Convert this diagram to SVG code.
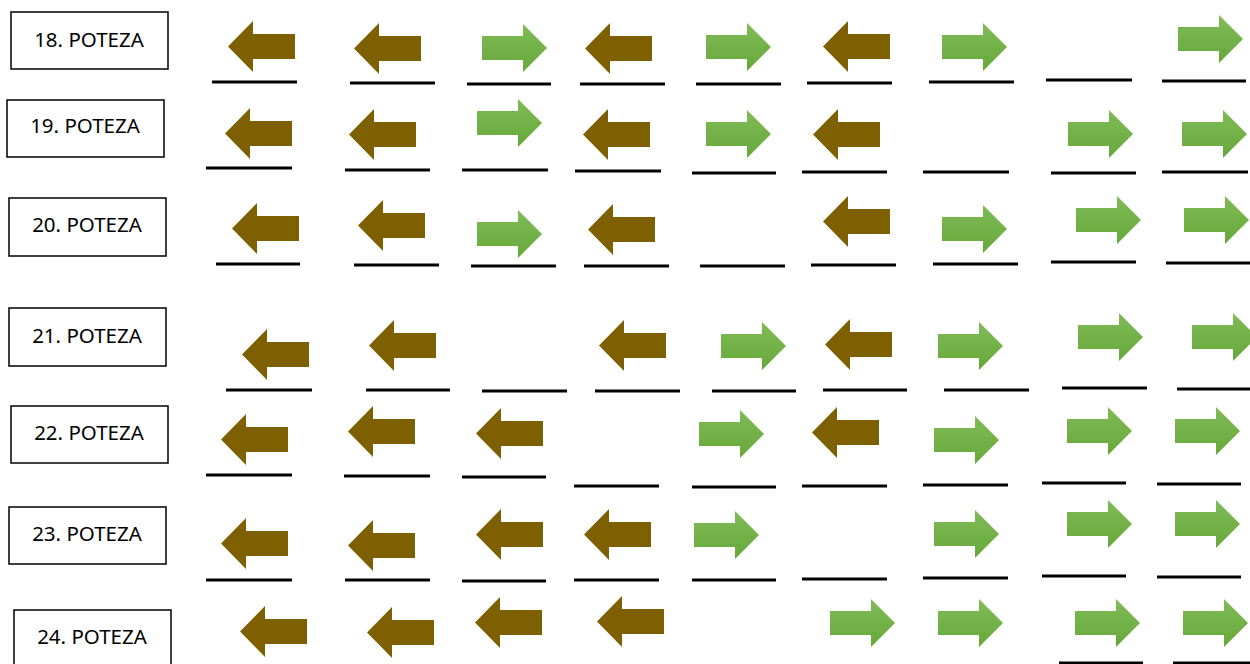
<svg xmlns="http://www.w3.org/2000/svg" xmlns:xlink="http://www.w3.org/1999/xlink" width="1250" height="664" viewBox="0 0 1250 664">
  <style>
    .box { fill: #ffffff; stroke: #000000; stroke-width: 1.5; }
    .label { font-family: "Noto Sans", "Open Sans", "Liberation Sans", sans-serif; font-size: 20.5px; fill: #000000; text-anchor: middle; }
    .slot { stroke: #000000; stroke-width: 3; }
  </style>
  <defs>
    <linearGradient id="greenFill" x1="0" y1="0" x2="0" y2="1">
      <stop offset="0" stop-color="#80bb57"/>
      <stop offset="1" stop-color="#66a83a"/>
    </linearGradient>
    <!-- brown arrow pointing left, 67 x 51 -->
    <path id="left" d="M0,25.5 L25,0 L25,13 L67,13 L67,38 L25,38 L25,51 Z" fill="#7f6000"/>
    <!-- green arrow pointing right, 65 x 48 -->
    <path id="right" d="M0,12 L41,12 L41,0 L65,24 L41,48 L41,36 L0,36 Z" fill="url(#greenFill)"/>
  </defs>
  <rect width="1250" height="664" fill="#ffffff"/>

  <!-- move 18 -->
  <g id="move-18">
    <rect class="box" x="11" y="12" width="157" height="57"/>
    <text class="label" x="89" y="47">18. POTEZA</text>
    <use xlink:href="#left" x="228" y="21"/>
    <use xlink:href="#left" x="354" y="23"/>
    <use xlink:href="#right" x="482" y="24"/>
    <use xlink:href="#left" x="585" y="23"/>
    <use xlink:href="#right" x="706" y="23"/>
    <use xlink:href="#left" x="823" y="21"/>
    <use xlink:href="#right" x="942" y="23"/>
    <use xlink:href="#right" x="1178" y="15"/>
  </g>

  <!-- move 19 -->
  <g id="move-19">
    <rect class="box" x="7" y="100" width="157" height="57"/>
    <text class="label" x="85" y="133">19. POTEZA</text>
    <use xlink:href="#left" x="225" y="108"/>
    <use xlink:href="#left" x="349" y="109"/>
    <use xlink:href="#right" x="477" y="99"/>
    <use xlink:href="#left" x="583" y="109"/>
    <use xlink:href="#right" x="706" y="110"/>
    <use xlink:href="#left" x="813" y="109"/>
    <use xlink:href="#right" x="1068" y="110"/>
    <use xlink:href="#right" x="1182" y="110"/>
  </g>

  <!-- move 20 -->
  <g id="move-20">
    <rect class="box" x="9" y="198" width="157" height="58"/>
    <text class="label" x="87" y="232">20. POTEZA</text>
    <use xlink:href="#left" x="232" y="203"/>
    <use xlink:href="#left" x="358" y="200"/>
    <use xlink:href="#right" x="477" y="210"/>
    <use xlink:href="#left" x="588" y="204"/>
    <use xlink:href="#left" x="823" y="196"/>
    <use xlink:href="#right" x="942" y="205"/>
    <use xlink:href="#right" x="1076" y="196"/>
    <use xlink:href="#right" x="1184" y="196"/>
  </g>

  <!-- move 21 -->
  <g id="move-21">
    <rect class="box" x="9" y="308" width="157" height="58"/>
    <text class="label" x="87" y="343">21. POTEZA</text>
    <use xlink:href="#left" x="242" y="329"/>
    <use xlink:href="#left" x="369" y="320"/>
    <use xlink:href="#left" x="599" y="320"/>
    <use xlink:href="#right" x="721" y="322"/>
    <use xlink:href="#left" x="825" y="319"/>
    <use xlink:href="#right" x="938" y="322"/>
    <use xlink:href="#right" x="1078" y="313"/>
    <use xlink:href="#right" x="1192" y="313"/>
  </g>

  <!-- move 22 -->
  <g id="move-22">
    <rect class="box" x="11" y="406" width="157" height="57"/>
    <text class="label" x="89" y="440">22. POTEZA</text>
    <use xlink:href="#left" x="221" y="414"/>
    <use xlink:href="#left" x="348" y="406"/>
    <use xlink:href="#left" x="476" y="408"/>
    <use xlink:href="#right" x="699" y="410"/>
    <use xlink:href="#left" x="812" y="407"/>
    <use xlink:href="#right" x="934" y="416"/>
    <use xlink:href="#right" x="1067" y="407"/>
    <use xlink:href="#right" x="1175" y="407"/>
  </g>

  <!-- move 23 -->
  <g id="move-23">
    <rect class="box" x="9" y="507" width="157" height="57"/>
    <text class="label" x="87" y="541">23. POTEZA</text>
    <use xlink:href="#left" x="221" y="518"/>
    <use xlink:href="#left" x="348" y="520"/>
    <use xlink:href="#left" x="476" y="509"/>
    <use xlink:href="#left" x="584" y="509"/>
    <use xlink:href="#right" x="694" y="511"/>
    <use xlink:href="#right" x="934" y="510"/>
    <use xlink:href="#right" x="1067" y="500"/>
    <use xlink:href="#right" x="1175" y="500"/>
  </g>

  <!-- move 24 -->
  <g id="move-24">
    <rect class="box" x="14" y="610" width="157" height="60"/>
    <text class="label" x="92" y="644">24. POTEZA</text>
    <use xlink:href="#left" x="240" y="606"/>
    <use xlink:href="#left" x="367" y="607"/>
    <use xlink:href="#left" x="475" y="597"/>
    <use xlink:href="#left" x="597" y="596"/>
    <use xlink:href="#right" x="830" y="599"/>
    <use xlink:href="#right" x="938" y="599"/>
    <use xlink:href="#right" x="1075" y="599"/>
    <use xlink:href="#right" x="1183" y="599"/>
  </g>

  <!-- answer slots under each position -->
  <g id="slots">
    <line class="slot" x1="212" y1="82" x2="297" y2="82"/>
    <line class="slot" x1="350" y1="83" x2="435" y2="83"/>
    <line class="slot" x1="467" y1="84" x2="551" y2="84"/>
    <line class="slot" x1="580" y1="84" x2="665" y2="84"/>
    <line class="slot" x1="696" y1="84" x2="781" y2="84"/>
    <line class="slot" x1="807" y1="83" x2="892" y2="83"/>
    <line class="slot" x1="929" y1="82" x2="1014" y2="82"/>
    <line class="slot" x1="1046" y1="80" x2="1132" y2="80"/>
    <line class="slot" x1="1162" y1="81" x2="1246" y2="81"/>

    <line class="slot" x1="206" y1="168" x2="292" y2="168"/>
    <line class="slot" x1="345" y1="170" x2="430" y2="170"/>
    <line class="slot" x1="462" y1="170" x2="548" y2="170"/>
    <line class="slot" x1="575" y1="171" x2="661" y2="171"/>
    <line class="slot" x1="692" y1="173" x2="776" y2="173"/>
    <line class="slot" x1="802" y1="172" x2="887" y2="172"/>
    <line class="slot" x1="923" y1="172" x2="1009" y2="172"/>
    <line class="slot" x1="1051" y1="173" x2="1136" y2="173"/>
    <line class="slot" x1="1162" y1="172" x2="1248" y2="172"/>

    <line class="slot" x1="216" y1="264" x2="300" y2="264"/>
    <line class="slot" x1="354" y1="265" x2="439" y2="265"/>
    <line class="slot" x1="471" y1="266" x2="556" y2="266"/>
    <line class="slot" x1="584" y1="266" x2="669" y2="266"/>
    <line class="slot" x1="700" y1="266" x2="785" y2="266"/>
    <line class="slot" x1="811" y1="265" x2="896" y2="265"/>
    <line class="slot" x1="933" y1="264" x2="1018" y2="264"/>
    <line class="slot" x1="1051" y1="262" x2="1136" y2="262"/>
    <line class="slot" x1="1166" y1="263" x2="1251" y2="263"/>

    <line class="slot" x1="226" y1="390" x2="312" y2="390"/>
    <line class="slot" x1="366" y1="390" x2="450" y2="390"/>
    <line class="slot" x1="482" y1="391" x2="567" y2="391"/>
    <line class="slot" x1="595" y1="391" x2="680" y2="391"/>
    <line class="slot" x1="712" y1="391" x2="796" y2="391"/>
    <line class="slot" x1="823" y1="390" x2="907" y2="390"/>
    <line class="slot" x1="944" y1="390" x2="1029" y2="390"/>
    <line class="slot" x1="1062" y1="388" x2="1147" y2="388"/>
    <line class="slot" x1="1177" y1="389" x2="1250" y2="389"/>

    <line class="slot" x1="206" y1="475" x2="292" y2="475"/>
    <line class="slot" x1="344" y1="476" x2="430" y2="476"/>
    <line class="slot" x1="462" y1="477" x2="546" y2="477"/>
    <line class="slot" x1="574" y1="486" x2="659" y2="486"/>
    <line class="slot" x1="692" y1="487" x2="776" y2="487"/>
    <line class="slot" x1="802" y1="486" x2="887" y2="486"/>
    <line class="slot" x1="923" y1="485" x2="1008" y2="485"/>
    <line class="slot" x1="1042" y1="483" x2="1126" y2="483"/>
    <line class="slot" x1="1157" y1="484" x2="1241" y2="484"/>

    <line class="slot" x1="206" y1="580" x2="292" y2="580"/>
    <line class="slot" x1="345" y1="580" x2="430" y2="580"/>
    <line class="slot" x1="462" y1="581" x2="546" y2="581"/>
    <line class="slot" x1="574" y1="580" x2="659" y2="580"/>
    <line class="slot" x1="692" y1="580" x2="776" y2="580"/>
    <line class="slot" x1="802" y1="579" x2="887" y2="579"/>
    <line class="slot" x1="923" y1="578" x2="1008" y2="578"/>
    <line class="slot" x1="1042" y1="576" x2="1126" y2="576"/>
    <line class="slot" x1="1157" y1="577" x2="1241" y2="577"/>

    <line class="slot" x1="1059" y1="663" x2="1143" y2="663"/>
    <line class="slot" x1="1173" y1="663" x2="1250" y2="663"/>
  </g>
</svg>
